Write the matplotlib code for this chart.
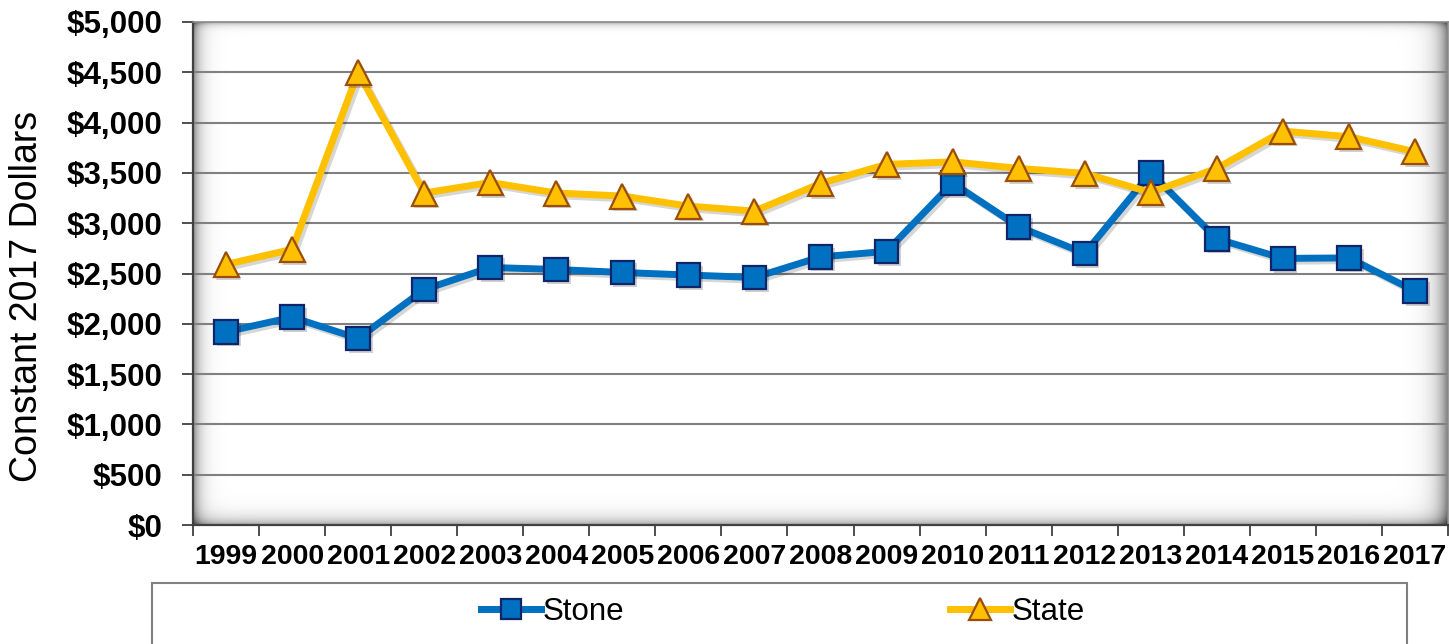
import matplotlib
matplotlib.use("Agg")
import matplotlib.pyplot as plt
import matplotlib.patheffects as pe
from matplotlib.lines import Line2D
from matplotlib.patches import Rectangle
from matplotlib.ticker import FuncFormatter, FixedLocator
import numpy as np

plt.rcParams['font.family'] = ['Liberation Sans', 'DejaVu Sans']

years = ['1999', '2000', '2001', '2002', '2003', '2004', '2005', '2006', '2007', '2008',
         '2009', '2010', '2011', '2012', '2013', '2014', '2015', '2016', '2017']
stone = [1920, 2065, 1855, 2340, 2560, 2540, 2510, 2485, 2460, 2665,
         2720, 3400, 2965, 2700, 3500, 2845, 2650, 2655, 2325]
state = [2590, 2740, 4500, 3300, 3405, 3300, 3270, 3170, 3120, 3395,
         3585, 3610, 3545, 3495, 3305, 3545, 3915, 3860, 3710]

W, H = 1449, 644
fig = plt.figure(figsize=(W / 100, H / 100), dpi=100)
ax = fig.add_axes([193 / W, 1 - 525 / H, (1448 - 193) / W, (525 - 22) / H])

x = np.arange(len(years))

# soft inner shadow of the plot area
ih, iw = 503, 1255
yy, xx = np.mgrid[0:ih, 0:iw]
shade = (0.45 * np.exp(-xx / 7.0) + 0.40 * np.exp(-(ih - yy) / 7.0)
         + 0.55 * np.exp(-(iw - xx) / 10.0) + 0.30 * np.exp(-yy / 3.0))
bg = np.clip(1 - shade, 0, 1)
ax.imshow(bg, cmap='gray', vmin=0, vmax=1, aspect='auto',
          extent=(-0.5, len(years) - 0.5, 0, 5000), zorder=0, interpolation='bilinear')

blue, blue_edge = '#0070C0', '#10246A'
gold, gold_edge = '#FFC000', '#9A4E0A'

line_fx = [pe.SimpleLineShadow(offset=(2, -2), shadow_color='k', alpha=0.16), pe.Normal()]
mark_fx = [pe.SimplePatchShadow(offset=(2, -2), shadow_rgbFace='k', alpha=0.18), pe.Normal()]

ax.plot(x, stone, color=blue, lw=5, solid_joinstyle='round', zorder=3, path_effects=line_fx)
ax.plot(x, stone, ls='none', marker='s', ms=17, mfc=blue, mec=blue_edge, mew=1.6,
        zorder=3, path_effects=mark_fx)
ax.plot(x, state, color=gold, lw=5, solid_joinstyle='round', zorder=4, path_effects=line_fx)
ax.plot(x, state, ls='none', marker='^', ms=18, mfc=gold, mec=gold_edge, mew=1.6,
        zorder=4, path_effects=mark_fx)

ax.set_xlim(-0.5, len(years) - 0.5)
ax.set_ylim(0, 5000)

# y axis
ax.set_yticks(np.arange(0, 5001, 500))
ax.yaxis.set_major_formatter(FuncFormatter(lambda v, _: f"${v:,.0f}"))
ax.tick_params(axis='y', direction='out', length=8, width=1.3, color='#404040',
               pad=14, labelsize=22.5)
for lab in ax.get_yticklabels():
    lab.set_fontweight('bold')
for v in np.arange(500, 5000, 500):
    ax.axhline(v, color='#808080', lw=1.5, zorder=1)

# x axis: ticks between categories, labels at centres
ax.xaxis.set_major_locator(FixedLocator(np.arange(-0.5, len(years), 1)))
ax.xaxis.set_minor_locator(FixedLocator(x))
ax.set_xticklabels([])
ax.set_xticklabels(years, minor=True, fontweight='bold', fontsize=20.5)
ax.tick_params(axis='x', which='major', direction='out', length=8, width=1.3, color='#404040')
ax.tick_params(axis='x', which='minor', length=0, pad=14)

for s in ['left', 'bottom']:
    ax.spines[s].set_color('#404040')
    ax.spines[s].set_linewidth(1.6)
for s in ['top', 'right']:
    ax.spines[s].set_color('#8a8a8a')
    ax.spines[s].set_linewidth(1.2)

fig.text(27 / W, 1 - 296 / H, 'Constant 2017 Dollars', rotation=90, fontsize=27,
         ha='center', va='center')

# legend box at the bottom
fig.patches.append(Rectangle((152 / W, -0.05), (1407 - 152) / W, (H - 583) / H + 0.05,
                             transform=fig.transFigure, facecolor='white',
                             edgecolor='#808080', lw=1.5, zorder=0))
handles = [
    Line2D([], [], color=blue, lw=5, marker='s', ms=15, mfc=blue, mec=blue_edge, mew=1.6),
    Line2D([], [], color=gold, lw=5, marker='^', ms=16, mfc=gold, mec=gold_edge, mew=1.6),
]
fig.legend(handles, ['Stone', 'State'], ncol=2, loc='center',
           bbox_to_anchor=(783 / W, 1 - 612 / H), frameon=False, fontsize=22.5,
           handlelength=1.9, handletextpad=0.05, columnspacing=10.45)

fig.savefig('out.png', dpi=100)
